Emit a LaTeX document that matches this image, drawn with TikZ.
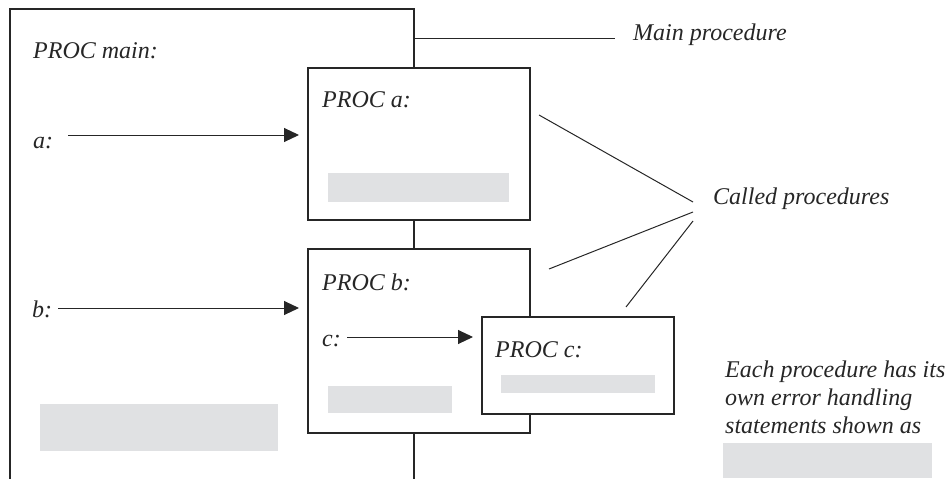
\documentclass[tikz,border=0pt]{standalone}
\usepackage{fontspec}
\setmainfont{Liberation Serif}
\usetikzlibrary{arrows.meta}
\definecolor{errgray}{RGB}{224,225,227}
\begin{document}
\begin{tikzpicture}[x=1pt,y=-1pt,
  procbox/.style={draw=black!85,line width=2pt,fill=white,inner sep=0pt,anchor=center},
  errbox/.style={fill=errgray,draw=none,inner sep=0pt,anchor=center},
  lbl/.style={inner sep=0pt,anchor=base west,font=\fontsize{24}{28}\selectfont\itshape,text=black!85},
  frame/.style={draw=black!85,line width=2pt},
  thin/.style={draw=black!85,line width=1pt},
  callarrow/.style={thin,-{Triangle[length=15pt,width=14pt]},shorten >=8pt}]
\useasboundingbox (0,0) rectangle (950,479);

% main procedure frame
\coordinate (mBL) at (10,479);
\coordinate (mTL) at (10,8.5);
\coordinate (mTR) at (414,8.5);
\coordinate (mBR) at (414,479);

% procedure boxes
\node[procbox,minimum width=222pt,minimum height=152pt] (A) at (419,144) {};
\node[procbox,minimum width=222pt,minimum height=184pt] (B) at (419,341) {};
\node[procbox,minimum width=192pt,minimum height=97.5pt] (C) at (578,365.25) {};

\draw[frame] (mBL) -- (mTL) -- (mTR) -- (mTR |- A.north);
\draw[frame] (mTR |- A.south) -- (mTR |- B.north);
\draw[frame] (mTR |- B.south) -- (mBR);

% error handling areas
\node[errbox,minimum width=181pt,minimum height=29pt] (ea) at (418.5,187.5) {};
\node[errbox,minimum width=124pt,minimum height=27pt] (eb) at (390,399.5) {};
\node[errbox,minimum width=154pt,minimum height=18pt] (ec) at (578,384) {};
\node[errbox,minimum width=238pt,minimum height=47pt] (em) at (159,427.5) {};
\node[errbox,minimum width=209pt,minimum height=35pt] (el) at (827.5,460.5) {};

% labels
\node[lbl] (tmain) at (33,58) {PROC main:};
\node[lbl] (ta) at (322,107) {PROC a:};
\node[lbl] (tb) at (322,290) {PROC b:};
\node[lbl] (tc) at (495,357) {PROC c:};
\node[lbl] (la) at (33,148) {a:};
\node[lbl] (lb) at (32,317) {b:};
\node[lbl] (lc) at (322,346) {c:};

% calls
\coordinate (a0) at (68,135);
\coordinate (b0) at (58,308);
\coordinate (c0) at (347,337);
\draw[callarrow] (a0) -- (A.west |- a0);
\draw[callarrow] (b0) -- (B.west |- b0);
\draw[callarrow] (c0) -- (C.west |- c0);

% annotations
\node[lbl] (tmp) at (633,40) {Main procedure};
\coordinate (mp0) at (414,38);
\coordinate (mp1) at (615,38);
\draw[thin] (mp0) -- (mp1);

\node[lbl] (tcp) at (713,204) {Called procedures};
\coordinate (k1) at (693,202);
\coordinate (k2) at (693,212);
\coordinate (k3) at (693,221);
\coordinate (p1) at (539,115);
\coordinate (p2) at (549,269);
\coordinate (p3) at (626,307);
\draw[thin] (p1) -- (k1);
\draw[thin] (k2) -- (p2);
\draw[thin] (k3) -- (p3);

% legend text (base anchor of a multi-line node is its last line)
\node[lbl,align=left,anchor=base west] (tnote) at (725,433)
  {Each procedure has its\\own error handling\\statements shown as};
\end{tikzpicture}
\end{document}
